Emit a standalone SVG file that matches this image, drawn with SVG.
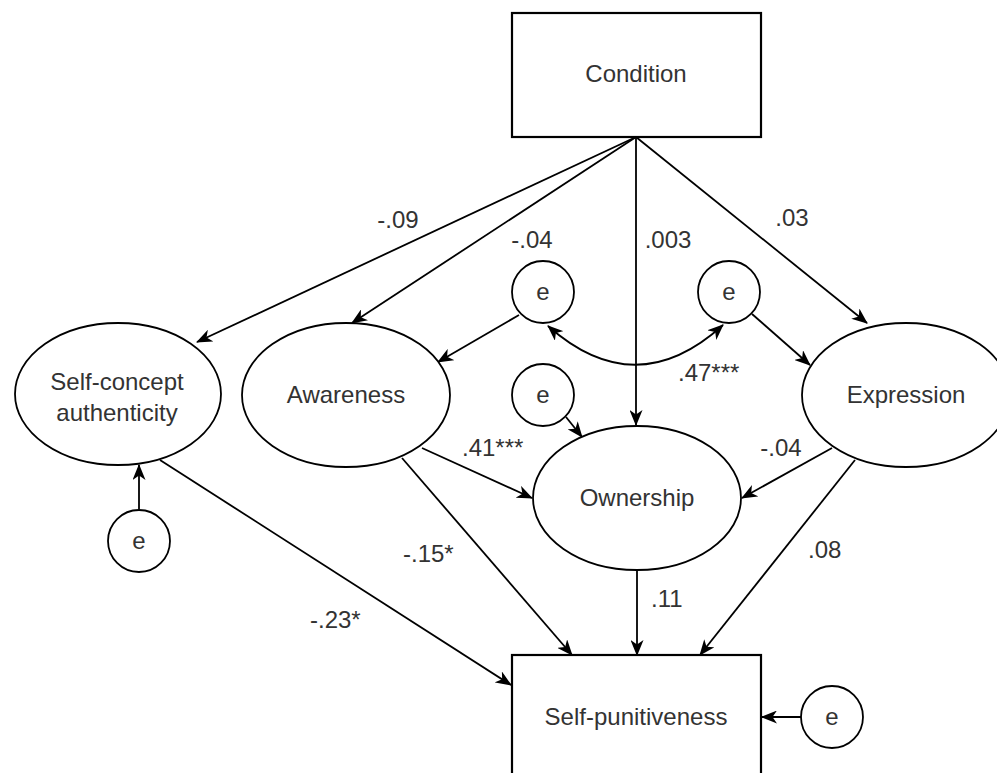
<svg xmlns="http://www.w3.org/2000/svg" width="997" height="773" viewBox="0 0 997 773">
  <defs>
    <marker id="arrow" viewBox="0 0 16 13" markerWidth="16" markerHeight="13" refX="15" refY="6.5" orient="auto-start-reverse" markerUnits="userSpaceOnUse">
      <path d="M0,0 L16,6.5 L0,13 L4.5,6.5 Z" fill="#000"/>
    </marker>
    <style>
      .box { fill: #fff; stroke: #000; stroke-width: 2.2; }
      .shape { fill: #fff; stroke: #000; stroke-width: 1.8; }
      .label { font-family: "Liberation Sans", Arial, sans-serif; font-size: 24px; fill: #333; text-anchor: middle; }
      .coef { font-family: "Liberation Sans", Arial, sans-serif; font-size: 24px; fill: #333; }
      .mid { text-anchor: middle; }
      .edge { fill: none; stroke: #000; stroke-width: 1.8; marker-end: url(#arrow); }
      .both { marker-start: url(#arrow); }
    </style>
  </defs>
  <rect width="997" height="773" fill="#fff"/>

  <g id="connectors">
    <!-- Condition paths -->
    <line class="edge" x1="636" y1="137" x2="197" y2="342"/>
    <line class="edge" x1="636" y1="137" x2="352" y2="323"/>
    <line class="edge" x1="636" y1="137" x2="636" y2="425"/>
    <line class="edge" x1="636" y1="137" x2="867" y2="323"/>
    <!-- residuals -->
    <line class="edge" x1="519" y1="315" x2="438" y2="362"/>
    <line class="edge" x1="752" y1="314" x2="810" y2="365"/>
    <line class="edge" x1="566" y1="417" x2="582" y2="437"/>
    <line class="edge" x1="139" y1="509" x2="139" y2="465"/>
    <line class="edge" x1="801" y1="717" x2="762" y2="717"/>
    <!-- residual covariance -->
    <path class="edge both" d="M548,326 Q636,404 723,325"/>
    <!-- mediator paths -->
    <line class="edge" x1="422" y1="448" x2="532" y2="498"/>
    <line class="edge" x1="832" y1="448" x2="742" y2="498"/>
    <line class="edge" x1="160" y1="460" x2="511" y2="685"/>
    <line class="edge" x1="402" y1="458" x2="572" y2="655"/>
    <line class="edge" x1="637" y1="570" x2="637" y2="655"/>
    <line class="edge" x1="855" y1="460" x2="700" y2="655"/>
  </g>

  <g id="condition">
    <rect class="box" x="512" y="13" width="249" height="124"/>
    <text class="label" x="636" y="82">Condition</text>
  </g>
  <g id="self-punitiveness">
    <rect class="box" x="512" y="655" width="249" height="124"/>
    <text class="label" x="636" y="725">Self-punitiveness</text>
  </g>
  <g id="self-concept">
    <ellipse class="shape" cx="118" cy="394" rx="103" ry="71"/>
    <text class="label" x="117" y="390">Self-concept</text>
    <text class="label" x="117" y="421">authenticity</text>
  </g>
  <g id="awareness">
    <ellipse class="shape" cx="346" cy="395" rx="104" ry="72"/>
    <text class="label" x="346" y="403">Awareness</text>
  </g>
  <g id="ownership">
    <ellipse class="shape" cx="637" cy="498" rx="104" ry="72"/>
    <text class="label" x="637" y="506">Ownership</text>
  </g>
  <g id="expression">
    <ellipse class="shape" cx="906" cy="395" rx="104" ry="72"/>
    <text class="label" x="906" y="403">Expression</text>
  </g>
  <g id="e-awareness">
    <circle class="shape" cx="543" cy="292" r="31"/>
    <text class="label" x="543" y="300">e</text>
  </g>
  <g id="e-expression">
    <circle class="shape" cx="729" cy="292" r="31"/>
    <text class="label" x="729" y="300">e</text>
  </g>
  <g id="e-ownership">
    <circle class="shape" cx="543" cy="395" r="31"/>
    <text class="label" x="543" y="403">e</text>
  </g>
  <g id="e-self-concept">
    <circle class="shape" cx="139" cy="541" r="31"/>
    <text class="label" x="139" y="549">e</text>
  </g>
  <g id="e-self-punitiveness">
    <circle class="shape" cx="832" cy="717" r="31"/>
    <text class="label" x="832" y="725">e</text>
  </g>

  <g id="coefficients">
    <text class="coef mid" x="398" y="228">-.09</text>
    <text class="coef mid" x="532" y="248">-.04</text>
    <text class="coef mid" x="668" y="248">.003</text>
    <text class="coef mid" x="792" y="226">.03</text>
    <text class="coef" x="678" y="381">.47***</text>
    <text class="coef" x="462" y="456">.41***</text>
    <text class="coef mid" x="781" y="456">-.04</text>
    <text class="coef" x="403" y="562">-.15*</text>
    <text class="coef" x="310" y="628">-.23*</text>
    <text class="coef" x="651" y="607">.11</text>
    <text class="coef" x="808" y="558">.08</text>
  </g>
</svg>
